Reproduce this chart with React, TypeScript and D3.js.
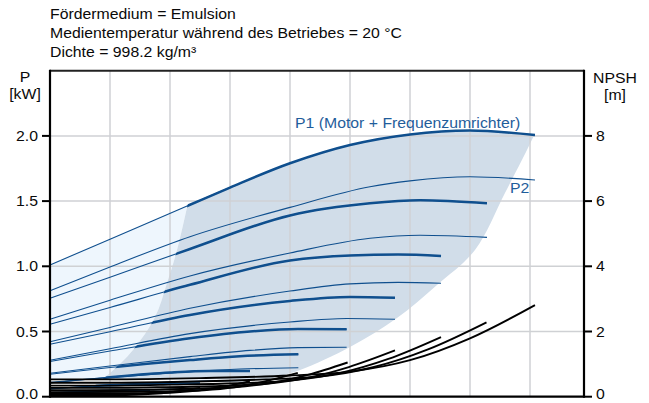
import React from "react";
import * as d3 from "d3";

type Pt = [number, number];

// ---- header / axis text ----
const TITLE_LINES = [
  "Fördermedium = Emulsion",
  "Medientemperatur während des Betriebes = 20 °C",
  "Dichte = 998.2 kg/m³",
];
const P_TICKS = [0, 0.5, 1, 1.5, 2];
const NPSH_TICKS = [0, 2, 4, 6, 8];
const Q_GRID = [1, 2, 3, 4, 5, 6, 7, 8];

// ---- power curves P1 (motor + inverter), one per speed, (Q, kW) ----
const P1_S1: Pt[] = [[0, 1.01], [1, 1.208], [2.333, 1.472], [3, 1.604], [4, 1.79], [5, 1.93], [6, 2.011], [7, 2.041], [8.083, 2.007]];
const P1_S2: Pt[] = [[0, 0.755], [1, 0.916], [2.333, 1.133], [4, 1.39], [5.333, 1.483], [6.167, 1.506], [7.283, 1.483]];
const P1_S3: Pt[] = [[0, 0.555], [1, 0.684], [2.333, 0.858], [4, 1.045], [5, 1.083], [5.8, 1.09], [6.517, 1.079]];
const P1_S4: Pt[] = [[0, 0.402], [1, 0.498], [2.333, 0.627], [4, 0.734], [5, 0.765], [5.75, 0.759]];
const P1_S5: Pt[] = [[0, 0.27], [1, 0.35], [2.333, 0.448], [3.333, 0.5], [4.133, 0.519], [4.944, 0.517]];
const P1_S6: Pt[] = [[0, 0.172], [1, 0.224], [2.333, 0.281], [3.167, 0.31], [4.139, 0.325]];
const P1_S7: Pt[] = [[0, 0.105], [1, 0.15], [2, 0.186], [2.667, 0.198], [3.333, 0.197]];
const P1_S8: Pt[] = [[0, 0.062], [1, 0.088], [1.8, 0.1], [2.5, 0.102]];
const P1_S9: Pt[] = [[0, 0.032], [0.9, 0.043], [1.667, 0.047]];
const P1_S10: Pt[] = [[0, 0.012], [0.833, 0.016]];

// ---- shaft power P2 ----
const P2_S1: Pt[] = [[0, 0.813], [1, 0.995], [2.333, 1.227], [4, 1.452], [5.333, 1.61], [6, 1.655], [7, 1.687], [8.083, 1.662]];
const P2_S2: Pt[] = [[0, 0.594], [1, 0.74], [2.333, 0.926], [4, 1.102], [5.333, 1.215], [6.167, 1.238], [7.283, 1.222]];
const P2_S3: Pt[] = [[0, 0.422], [1, 0.531], [2.333, 0.678], [4, 0.81], [5, 0.865], [5.8, 0.877], [6.517, 0.87]];
const P2_S4: Pt[] = [[0, 0.28], [1, 0.368], [2.333, 0.484], [4, 0.573], [4.944, 0.6], [5.75, 0.594]];
const P2_S5: Pt[] = [[0, 0.18], [1, 0.235], [2.333, 0.307], [3.333, 0.355], [4.133, 0.376], [4.944, 0.379]];
const P2_S6: Pt[] = [[0, 0.11], [1, 0.147], [2.333, 0.192], [3.167, 0.212], [4.139, 0.222]];
const P2_S7: Pt[] = [[0, 0.06], [1, 0.09], [2, 0.113], [3.333, 0.125]];
const P2_S8: Pt[] = [[0, 0.03], [1, 0.048], [2.5, 0.058]];
const P2_S9: Pt[] = [[0, 0.014], [0.9, 0.021], [1.667, 0.025]];
const P2_S10: Pt[] = [[0, 0.005], [0.833, 0.008]];

// ---- NPSH curves (Q, m) ----
const NPSH_S1: Pt[] = [[0, 0.53], [1, 0.53], [2.5, 0.57], [4, 0.65], [5, 0.77], [6, 1.12], [7, 1.79], [8.083, 2.81]];
const NPSH_S2: Pt[] = [[0, 0.43], [0.9, 0.43], [2.25, 0.46], [3.6, 0.53], [4.5, 0.62], [5.4, 0.91], [6.3, 1.45], [7.275, 2.28]];
const NPSH_S3: Pt[] = [[0, 0.34], [0.81, 0.34], [2.02, 0.37], [3.22, 0.42], [4.03, 0.5], [4.84, 0.73], [5.64, 1.16], [6.517, 1.83]];
const NPSH_S4: Pt[] = [[0, 0.27], [0.71, 0.27], [1.78, 0.29], [2.84, 0.33], [3.56, 0.39], [4.27, 0.57], [4.98, 0.91], [5.75, 1.42]];
const NPSH_S5: Pt[] = [[0, 0.2], [0.61, 0.2], [1.54, 0.21], [2.46, 0.25], [3.07, 0.29], [3.68, 0.42], [4.3, 0.67], [4.96, 1.05]];
const NPSH_S6: Pt[] = [[0, 0.14], [0.51, 0.14], [1.28, 0.15], [2.04, 0.17], [2.56, 0.2], [3.07, 0.29], [3.58, 0.47], [4.13, 0.73]];
const NPSH_S7: Pt[] = [[0, 0.09], [0.41, 0.09], [1.03, 0.1], [1.65, 0.11], [2.06, 0.13], [2.47, 0.19], [2.88, 0.3], [3.33, 0.48]];
const NPSH_S8: Pt[] = [[0, 0.05], [0.78, 0.055], [1.24, 0.062], [1.55, 0.074], [1.86, 0.108], [2.17, 0.17], [2.5, 0.27]];
const NPSH_S9: Pt[] = [[0, 0.023], [0.53, 0.025], [0.84, 0.029], [1.05, 0.034], [1.26, 0.049], [1.47, 0.079], [1.7, 0.124]];

// ---- operating range boundaries (Q, kW) ----
const LEFT_BOUND: Pt[] = [[2.6, 2.6], [2.5, 1.892], [2.3, 1.485], [2.117, 1.125], [1.95, 0.872], [1.75, 0.611], [1.383, 0.358], [1.0, 0.182], [0.75, 0.09], [0.5, 0.0], [0.3, -0.1]];
const RIGHT_BOUND: Pt[] = [[8.35, 2.3], [8.083, 2.018], [7.583, 1.562], [7.083, 1.125], [6.45, 0.857], [5.783, 0.604], [5.0, 0.381], [4.167, 0.205], [3.583, 0.128], [3.0, 0.051], [2.5, -0.05]];
const RANGE_FLOOR = 0.133;

const P1_CURVES = [P1_S1, P1_S2, P1_S3, P1_S4, P1_S5, P1_S6, P1_S7, P1_S8, P1_S9, P1_S10];
const P2_CURVES = [P2_S1, P2_S2, P2_S3, P2_S4, P2_S5, P2_S6, P2_S7, P2_S8, P2_S9, P2_S10];
const NPSH_CURVES = [NPSH_S1, NPSH_S2, NPSH_S3, NPSH_S4, NPSH_S5, NPSH_S6, NPSH_S7, NPSH_S8, NPSH_S9];

const W = 649, H = 403;
const L = 50, R = 584, T = 70.7, B = 396.7;
const BLUE = "#0f4f8e";
const LABEL_BLUE = "#1f5d9b";
const FONT = "'Liberation Sans', Arial, sans-serif";
const FS = 14;
const SX = 1.13;

export default function App() {
  const x = d3.scaleLinear().domain([0, 8.9]).range([L, R]);
  const y = d3.scaleLinear().domain([0, 2.5]).range([B, T]);
  const yR = d3.scaleLinear().domain([0, 10]).range([B, T]);

  const lineP = d3.line<Pt>().x(d => x(d[0])).y(d => y(d[1])).curve(d3.curveMonotoneX);
  const lineN = d3.line<Pt>().x(d => x(d[0])).y(d => yR(d[1])).curve(d3.curveMonotoneX);
  const bound = d3.line<Pt>().x(d => x(d[0])).y(d => y(d[1])).curve(d3.curveCatmullRom);
  const area = d3.area<Pt>().x(d => x(d[0])).y0(y(RANGE_FLOOR)).y1(d => y(d[1])).curve(d3.curveMonotoneX);

  const leftOf = bound(LEFT_BOUND) + `L0,${H}L0,0Z`;
  const rightOfLeft = bound(LEFT_BOUND) + `L${W},${H}L${W},0Z`;
  const leftOfRight = bound(RIGHT_BOUND) + `L0,${H}L0,0Z`;
  const rangeArea = area(P1_S1) || "";
  const fmt = d3.format(".1f");

  const txt = (s: string, tx: number, ty: number, anchor: string = "start", fill = "#0a0a0a") => (
    <text transform={`translate(${tx},${ty}) scale(${SX},1)`} textAnchor={anchor as any}
      fontFamily={FONT} fontSize={FS} fill={fill}>{s}</text>
  );
  // label baseline: centred on tick, but kept inside the picture at the bottom
  const labelY = (py: number) => Math.min(py + 5, 398.5);

  return (
    <svg width={W} height={H} style={{ position: "absolute", left: 0, top: 0, background: "#fff" }}>
      <defs>
        <clipPath id="leftOf"><path d={leftOf} /></clipPath>
        <clipPath id="rightOfLeft"><path d={rightOfLeft} /></clipPath>
        <clipPath id="leftOfRight"><path d={leftOfRight} /></clipPath>
      </defs>

      {/* title */}
      {TITLE_LINES.map((s, i) => <g key={i}>{txt(s, 50, 19 + i * 19.2)}</g>)}

      {/* range shading */}
      <path d={rangeArea} fill="#eef6fd" clipPath="url(#leftOf)" />
      <g clipPath="url(#rightOfLeft)">
        <path d={rangeArea} fill="#d1dde9" clipPath="url(#leftOfRight)" />
      </g>

      {/* grid */}
      {Q_GRID.map(q => <line key={q} x1={x(q)} x2={x(q)} y1={T} y2={B} stroke="#cfd1d4" strokeWidth={1.5} />)}
      {P_TICKS.filter(p => p > 0).map(p => <line key={p} x1={L} x2={R} y1={y(p)} y2={y(p)} stroke="#cfd1d4" strokeWidth={1.5} />)}

      {/* thin curves */}
      {P2_CURVES.map((c, i) => <path key={"p2" + i} d={lineP(c) || ""} fill="none" stroke={BLUE} strokeWidth={1.1} />)}
      {P1_CURVES.map((c, i) => <path key={"p1t" + i} d={lineP(c) || ""} fill="none" stroke={BLUE} strokeWidth={1.1} />)}
      {/* thick P1 within operating range */}
      <g clipPath="url(#rightOfLeft)">
        {P1_CURVES.map((c, i) => <path key={"p1" + i} d={lineP(c) || ""} fill="none" stroke={BLUE} strokeWidth={2.5} />)}
      </g>

      {/* NPSH */}
      {NPSH_CURVES.map((c, i) => <path key={"n" + i} d={lineN(c) || ""} fill="none" stroke="#000" strokeWidth={1.9} />)}

      {/* frame & axes */}
      <line x1={L} x2={R} y1={T} y2={T} stroke="#222" strokeWidth={2} />
      <line x1={L} x2={L} y1={T - 1} y2={B + 1} stroke="#000" strokeWidth={2.2} />
      <line x1={R} x2={R} y1={T - 1} y2={B + 1} stroke="#000" strokeWidth={2.2} />
      <line x1={L} x2={R} y1={B} y2={B} stroke="#000" strokeWidth={2.2} />

      {P_TICKS.map(p => (
        <g key={"lt" + p}>
          <line x1={L - 8} x2={L} y1={y(p)} y2={y(p)} stroke="#000" strokeWidth={2} />
          {txt(fmt(p), 38, labelY(y(p)), "end")}
        </g>
      ))}
      {NPSH_TICKS.map(n => (
        <g key={"rt" + n}>
          <line x1={R} x2={R + 8} y1={yR(n)} y2={yR(n)} stroke="#000" strokeWidth={2} />
          {txt(String(n), 596, labelY(yR(n)), "start")}
        </g>
      ))}

      {txt("P", 25, 82, "middle")}
      {txt("[kW]", 25, 99, "middle")}
      {txt("NPSH", 615, 83, "middle")}
      {txt("[m]", 615, 100, "middle")}

      {txt("P1 (Motor + Frequenzumrichter)", 295, 128, "start", LABEL_BLUE)}
      {txt("P2", 510, 193, "start", LABEL_BLUE)}
    </svg>
  );
}
